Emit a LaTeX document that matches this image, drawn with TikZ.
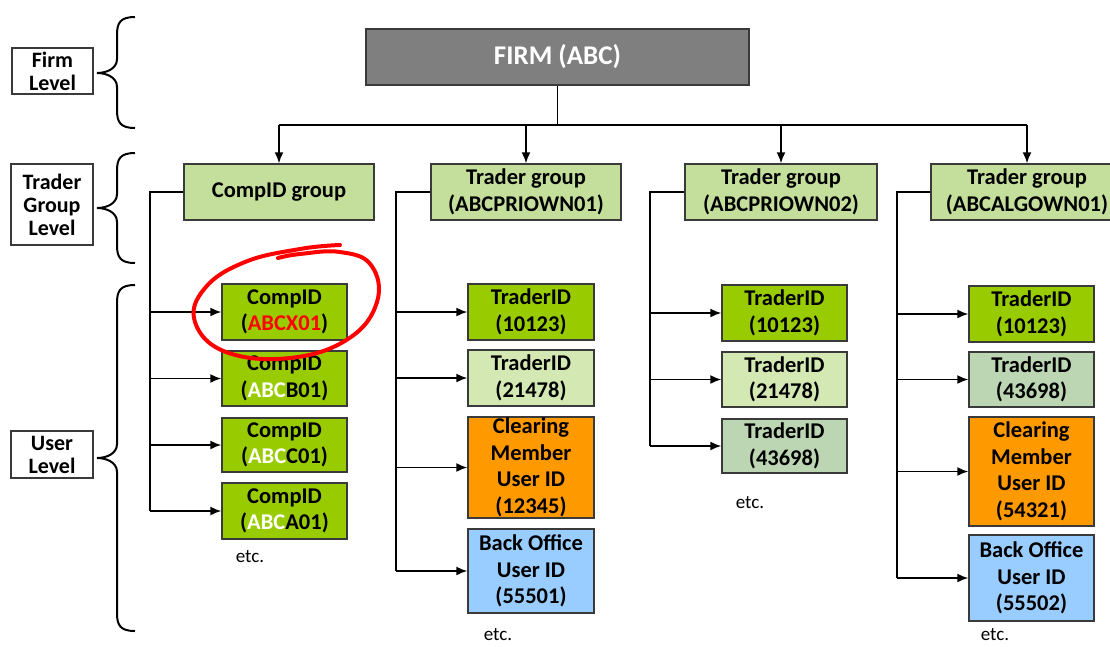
\documentclass[tikz,border=0pt]{standalone}
\usepackage{fontspec}
\setmainfont{Carlito}
\usetikzlibrary{arrows.meta}
\definecolor{brightgreen}{HTML}{99CC00}
\definecolor{palegreen}{HTML}{C4DF9B}
\definecolor{lightgreen}{HTML}{D4E8B4}
\definecolor{graygreen}{HTML}{BCD6B4}
\definecolor{orangebox}{HTML}{FF9900}
\definecolor{bluebox}{HTML}{99CCFF}
\definecolor{firmgray}{HTML}{7F7F7F}
\definecolor{edge}{HTML}{3A3A3A}
\tikzset{
  box/.style={draw=edge, line width=1.5pt, align=center, inner sep=0pt,
    font=\fontsize{22.5}{26.5}\selectfont\bfseries, text=black},
  lvl/.style={draw=edge, line width=1.3pt, fill=white, align=center, inner sep=0pt,
    font=\fontsize{22}{23}\selectfont\bfseries},
  conn/.style={line width=1.5pt, draw=black},
  arr/.style={conn, -{Latex[length=11pt,width=9pt]}},
  brc/.style={line width=2pt, draw=black},
  etcnode/.style={font=\fontsize{19}{22}\selectfont, inner sep=0pt}
}
\newcommand{\brc}[3]{% top, bottom, mid
  \draw[brc] (135,#1) .. controls (120,#1) and (117,#1+6) .. (117,#1+18)
    -- (117,#3-14) .. controls (117,#3-4) and (106,#3) .. (97,#3)
    .. controls (106,#3) and (117,#3+4) .. (117,#3+14)
    -- (117,#2-18) .. controls (117,#2-6) and (120,#2) .. (135,#2);}
\begin{document}
\begin{tikzpicture}[x=1pt,y=-1pt]
\clip (0,0) rectangle (1110,646);
\fill[white] (0,0) rectangle (1110,646);

% level labels and braces
\node[lvl, minimum width=81pt, minimum height=46pt] (lfirm) at (52.5,71) {Firm\\Level};
\node[lvl, minimum width=82pt, minimum height=81pt] (ltrader) at (52,204.5) {Trader\\Group\\Level};
\node[lvl, minimum width=82pt, minimum height=47pt] (luser) at (52,454.5) {User\\Level};
\brc{17}{128}{73}
\brc{153}{263}{208}
\brc{285}{631}{458}

% firm
\node[box, fill=firmgray, minimum width=383pt, minimum height=56pt,
  font=\fontsize{27}{32}\selectfont\bfseries, text=white] (firm) at (557.5,57) {FIRM (ABC)};

% groups
\node[box, fill=palegreen, minimum width=190pt, minimum height=56pt] (cg) at (279,192) {CompID group};
\node[box, fill=palegreen, minimum width=190pt, minimum height=56pt] (tg1) at (526,192) {Trader group\\(ABCPRIOWN01)};
\node[box, fill=palegreen, minimum width=192pt, minimum height=56pt] (tg2) at (781,192) {Trader group\\(ABCPRIOWN02)};
\node[box, fill=palegreen, minimum width=192pt, minimum height=56pt] (tg3) at (1027,192) {Trader group\\(ABCALGOWN01)};

% firm connectors
\coordinate (hub) at (557.5,125);
\coordinate (hl) at (279,125);
\coordinate (hr) at (1027,125);
\draw[conn] (firm.south) -- (hub);
\draw[conn] (hl) -- (hr);
\draw[arr] (hl) -- (cg.north);
\draw[arr] (tg1.north |- hub) -- (tg1.north);
\draw[arr] (tg2.north |- hub) -- (tg2.north);
\draw[arr] (hr) -- (tg3.north);

% CompID users
\node[box, fill=brightgreen, minimum width=125pt, minimum height=56pt] (c1) at (284.5,312) {CompID\\(\textcolor{red}{ABCX01})};
\node[box, fill=brightgreen, minimum width=125pt, minimum height=55pt] (c2) at (284.5,378.5) {CompID\\(\textcolor{white}{ABC}B01)};
\node[box, fill=brightgreen, minimum width=125pt, minimum height=54pt] (c3) at (284.5,445) {CompID\\(\textcolor{white}{ABC}C01)};
\node[box, fill=brightgreen, minimum width=125pt, minimum height=56pt] (c4) at (284.5,511) {CompID\\(\textcolor{white}{ABC}A01)};
\coordinate (s0) at (150,192);
\draw[conn] (cg.west) -- (s0) -- (s0 |- c4.west);
\foreach \n in {c1,c2,c3,c4} \draw[arr] (s0 |- \n.west) -- (\n.west);
\node[etcnode] (e0) at (250,557) {etc.};

% Trader group 1
\node[box, fill=brightgreen, minimum width=126pt, minimum height=56pt] (a1) at (531,312) {TraderID\\(10123)};
\node[box, fill=lightgreen, minimum width=126pt, minimum height=56pt] (a2) at (531,378) {TraderID\\(21478)};
\node[box, fill=orangebox, minimum width=126pt, minimum height=101pt] (a3) at (531,467.5) {Clearing\\Member\\User ID\\(12345)};
\node[box, fill=bluebox, minimum width=126pt, minimum height=84pt] (a4) at (531,571) {Back Office\\User ID\\(55501)};
\coordinate (s1) at (396,192);
\draw[conn] (tg1.west) -- (s1) -- (s1 |- a4.west);
\foreach \n in {a1,a2,a3,a4} \draw[arr] (s1 |- \n.west) -- (\n.west);
\node[etcnode] (e1) at (498,635) {etc.};

% Trader group 2
\node[box, fill=brightgreen, minimum width=125pt, minimum height=56pt] (b1) at (784.5,313) {TraderID\\(10123)};
\node[box, fill=lightgreen, minimum width=125pt, minimum height=55pt] (b2) at (784.5,379.5) {TraderID\\(21478)};
\node[box, fill=graygreen, minimum width=125pt, minimum height=54pt] (b3) at (784.5,446) {TraderID\\(43698)};
\coordinate (s2) at (650,192);
\draw[conn] (tg2.west) -- (s2) -- (s2 |- b3.west);
\foreach \n in {b1,b2,b3} \draw[arr] (s2 |- \n.west) -- (\n.west);
\node[etcnode] (e2) at (750,503) {etc.};

% Trader group 3
\node[box, fill=brightgreen, minimum width=125pt, minimum height=56pt] (d1) at (1031.5,314) {TraderID\\(10123)};
\node[box, fill=graygreen, minimum width=125pt, minimum height=55pt] (d2) at (1031.5,379.5) {TraderID\\(43698)};
\node[box, fill=orangebox, minimum width=125pt, minimum height=109pt] (d3) at (1031.5,471.5) {Clearing\\Member\\User ID\\(54321)};
\node[box, fill=bluebox, minimum width=125pt, minimum height=86pt] (d4) at (1031.5,578) {Back Office\\User ID\\(55502)};
\coordinate (s3) at (897,192);
\draw[conn] (tg3.west) -- (s3) -- (s3 |- d4.west);
\foreach \n in {d1,d2,d3,d4} \draw[arr] (s3 |- \n.west) -- (\n.west);
\node[etcnode] (e3) at (995,635) {etc.};

% red hand-drawn circle
\draw[red, line width=4pt, line cap=round, line join=round]
  plot[smooth, tension=0.7] coordinates {(340,245) (300,249) (245,262) (205,288) (195,322)
    (226,352) (290,358) (348,339) (377,302) (371,265) (340,252) (300,254) (278,258)};
\end{tikzpicture}
\end{document}
